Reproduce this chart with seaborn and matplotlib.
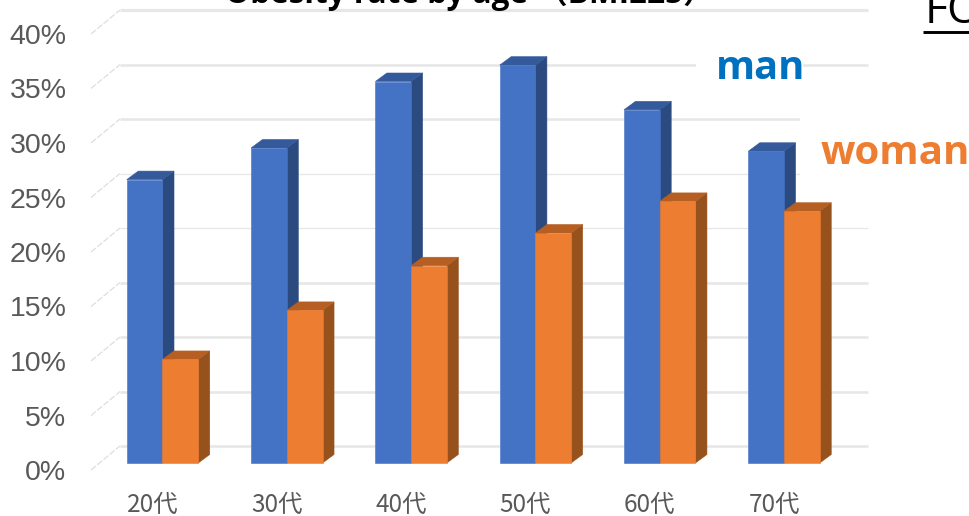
import matplotlib
matplotlib.use("Agg")
import matplotlib.pyplot as plt
from matplotlib.patches import Polygon, Rectangle
from matplotlib.transforms import Affine2D, ScaledTranslation
import pandas as pd
import seaborn as sns

# Obesity rate (BMI>=25) by age group, percent
age_groups = ["20代", "30代", "40代", "50代", "60代", "70代"]
man_rate = [26.0, 28.9, 35.0, 36.5, 32.4, 28.6]
woman_rate = [9.5, 14.0, 18.1, 21.1, 24.0, 23.1]
series_names = ["man", "woman"]
percent_ticks = [0, 5, 10, 15, 20, 25, 30, 35, 40]
chart_title = "Obesity rate by age （BMI≥25）"
side_heading = "FO"

W, H = 970, 516
DPI = 100
PX_PER_PCT = 10.9
BASE_Y = 463
CAT_X0, CAT_STEP = 162.5, 124.3
AX_LEFT, AX_BOTTOM = 72, 470
DEPTH_X, DEPTH_Y = 11.5, 8.5
WALL_SHIFT = 17

FRONT = {"man": "#4472C4", "woman": "#ED7D31"}
TOP = {"man": "#355A9C", "woman": "#B75F22"}
SIDE = {"man": "#2A4A80", "woman": "#97511C"}
GRID = "#E7E7E7"
TEXT = "#595959"

sns.set_theme(style="white")
plt.rcParams["font.family"] = ["Liberation Sans", "DejaVu Sans"]

df = pd.DataFrame({
    "age": age_groups * 2,
    "rate": man_rate + woman_rate,
    "sex": [series_names[0]] * 6 + [series_names[1]] * 6,
})

fig = plt.figure(figsize=(W / DPI, H / DPI), dpi=DPI, facecolor="white")
ax = fig.add_axes([AX_LEFT / W, (H - AX_BOTTOM) / H, (W - AX_LEFT) / W, AX_BOTTOM / H])
sns.barplot(data=df, x="age", y="rate", hue="sex", hue_order=series_names,
            palette=FRONT, width=0.575, gap=0, saturation=1, legend=False,
            linewidth=0, ax=ax)

ax.set_xlim((AX_LEFT - CAT_X0) / CAT_STEP, (W - CAT_X0) / CAT_STEP)
ax.set_ylim((BASE_Y - AX_BOTTOM) / PX_PER_PCT, BASE_Y / PX_PER_PCT)
ax.set_xlabel("")
ax.set_ylabel("")
ax.patch.set_alpha(0)
for spine in ax.spines.values():
    spine.set_visible(False)

dx = DEPTH_X / CAT_STEP
dy = DEPTH_Y / PX_PER_PCT

# Extruded side and top faces, built from each drawn bar
for z, (name, container) in enumerate(zip(series_names, ax.containers)):
    for bar in container:
        x0, w, h = bar.get_x(), bar.get_width(), bar.get_height()
        x1 = x0 + w
        ax.add_patch(Polygon([(x1, 0), (x1 + dx, dy), (x1 + dx, h + dy), (x1, h)],
                             facecolor=SIDE[name], edgecolor=SIDE[name], lw=0.4,
                             zorder=4 + 2 * z))
        ax.add_patch(Polygon([(x0, h), (x0 + dx, h + dy), (x1 + dx, h + dy), (x1, h)],
                             facecolor=TOP[name], edgecolor=TOP[name], lw=0.4,
                             zorder=4 + 2 * z))
        bar.set_zorder(5 + 2 * z)
        bar.set_edgecolor(FRONT[name])
        bar.set_linewidth(0.4)

# Pixel-based coordinates for decoration outside the data scale
pixels = Affine2D().scale(1, -1).translate(0, H)

# Back wall gridlines and the dashed floor-to-wall edges
grid_widths = {0: 2.0, 5: 2.0, 10: 2.0, 15: 2.0, 20: 1.0, 25: 1.0, 30: 2.0, 35: 2.0, 40: 2.4}
wall = WALL_SHIFT / PX_PER_PCT
x_start = (120 - CAT_X0) / CAT_STEP
x_end = (868 - CAT_X0) / CAT_STEP
for v in percent_ticks:
    ax.hlines(v + wall, x_start, x_end, color=GRID, lw=grid_widths[v] * 0.95,
              zorder=1, clip_on=False)
    y_back = BASE_Y - (v + wall) * PX_PER_PCT
    ax.plot([91, 120], [y_back + 24, y_back], transform=pixels, color="#DEDEDE", lw=0.9,
            ls=(0, (5, 1.5)), zorder=1, clip_on=False)

# White label panels interrupt the gridlines
ax.add_patch(Rectangle((696, 40), 107, 45, transform=pixels, facecolor="white",
                       edgecolor="none", zorder=2))
ax.add_patch(Rectangle((800, 105), 170, 75, transform=pixels, facecolor="white",
                       edgecolor="none", zorder=2))

ax.set_yticks(percent_ticks)
ax.set_yticklabels([f"{v}%" for v in percent_ticks])
ax.tick_params(axis="y", length=0, pad=4, labelsize=20.5, labelcolor=TEXT)
down = ScaledTranslation(0, -7 / DPI, fig.dpi_scale_trans)
for label in ax.get_yticklabels():
    label.set_transform(label.get_transform() + down)

ax.set_xticks(range(len(age_groups)))
ax.set_xticklabels(age_groups, family=["Noto Sans CJK JP", "DejaVu Sans"], fontsize=17.5,
                   color=TEXT)
ax.tick_params(axis="x", length=0, pad=16)
left = ScaledTranslation(-10 / DPI, 0, fig.dpi_scale_trans)
for label in ax.get_xticklabels():
    label.set_transform(label.get_transform() + left)

# Series labels, title and the heading at the right edge
ax.text(716, 79, series_names[0], transform=pixels, color="#0070C0", fontsize=28.7,
        fontweight="bold", family="Open Sans", zorder=8, clip_on=False)
ax.text(821, 164, series_names[1], transform=pixels, color="#ED7D31", fontsize=29,
        fontweight="bold", family="Open Sans", zorder=8, clip_on=False)
ax.text(225, 3, chart_title, transform=pixels, color="black", fontsize=22.7,
        fontweight="bold", family=["Open Sans", "Noto Sans CJK JP"], zorder=8, clip_on=False)
ax.text(925, 23, side_heading, transform=pixels, color="black", fontsize=32,
        family="Open Sans", zorder=8, clip_on=False)
ax.plot([923, 970], [32, 32], transform=pixels, color="black", lw=2.1, zorder=8,
        clip_on=False, solid_capstyle="butt")

fig.savefig("out.png", dpi=DPI)
